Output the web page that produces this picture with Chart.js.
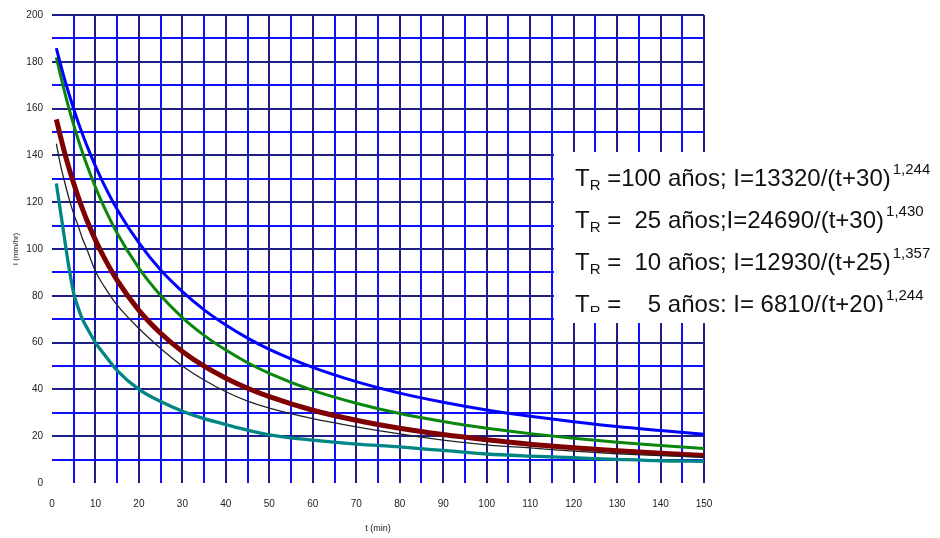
<!DOCTYPE html>
<html>
<head>
<meta charset="utf-8">
<style>
  html, body { margin: 0; padding: 0; background: #ffffff; }
  #wrap { width: 940px; height: 538px; }
</style>
<script src="https://cdn.jsdelivr.net/npm/chart.js@4.4.1/dist/chart.umd.min.js"></script>
</head>
<body>
<div id="wrap"><canvas id="c" width="940" height="538"></canvas></div>
<script>
// ---- data ----
const T = [1, 2, 3, 4, 5, 6, 7, 8, 10, 12, 15, 20, 25, 30, 35, 40, 45, 50, 60, 70, 80, 90, 100, 110, 120, 130, 140, 150];
const I_TR100 = [185.8, 178.7, 171.9, 165.7, 159.8, 154.3, 149.2, 144.3, 135.4, 127.4, 116.9, 102.6, 91.0, 81.8, 74.0, 67.5, 61.9, 57.1, 49.4, 43.3, 38.4, 34.5, 31.2, 28.5, 26.2, 24.1, 22.4, 20.8];
const I_TR25  = [181.9, 173.9, 166.4, 159.4, 153.0, 146.9, 141.3, 136.0, 126.4, 117.9, 106.7, 91.8, 80.1, 70.7, 63.1, 56.8, 51.4, 46.9, 39.6, 34.1, 29.7, 26.3, 23.4, 21.1, 19.1, 17.4, 16.0, 14.7];
const I_TR10  = [155.4, 147.7, 140.5, 134.0, 128.0, 122.4, 117.2, 112.4, 103.8, 96.3, 86.6, 73.8, 64.0, 56.2, 49.9, 44.8, 40.5, 36.9, 31.1, 26.8, 23.4, 20.7, 18.5, 16.6, 15.1, 13.8, 12.7, 11.7];
const I_THIN  = [145, 135.5, 128, 121, 115, 110, 104.5, 100, 90.5, 84, 76, 66, 57.5, 50, 44, 39, 35, 32, 27.5, 24, 21, 18.3, 16.3, 15, 13.6, 12.5, 11.7, 11];
const I_TR5   = [128, 115.5, 103, 91, 81, 75, 70, 66.5, 60, 55, 48, 40, 34.8, 30.7, 27.5, 25, 22.6, 20.6, 18.3, 16.6, 15.4, 13.9, 12.4, 11.5, 10.8, 10.1, 9.5, 9.3];

const X_MIN = 0, X_MAX = 150, X_STEP = 5, X_LABEL_EVERY = 10;
const Y_MIN = 0, Y_MAX = 200, Y_STEP = 10, Y_LABEL_EVERY = 20;

const X_TITLE = 't (min)';
const Y_TITLE = 'I (mm/hr)';

const LEG_HEAD = ['T', 'T', 'T', 'T'];
const LEG_SUB  = ['R', 'R', 'R', 'R'];
const LEG_BODY = [' =100 años; I=13320/(t+30)', ' =  25 años;I=24690/(t+30)', ' =  10 años; I=12930/(t+25)', ' =    5 años; I= 6810/(t+20)'];
const LEG_EXP  = ['1,244', '1,430', '1,357', '1,244'];

// ---- helpers ----
function pts(ys) { return T.map((t, i) => ({ x: t, y: ys[i] })); }

const MAJOR = '#1e1e86';
const MINOR = '#1010ff';
const FONT = '"Liberation Sans", Arial, Helvetica, sans-serif';

const legendBox = {
  id: 'legendBox',
  afterDraw(chart) {
    const ctx = chart.ctx;
    ctx.save();
    ctx.fillStyle = '#ffffff';
    ctx.fillRect(554, 152, 386, 171);
    ctx.beginPath();
    ctx.rect(554, 152, 386, 160);
    ctx.clip();
    ctx.fillStyle = '#111111';
    ctx.textBaseline = 'alphabetic';
    ctx.textAlign = 'left';
    const baselines = [186, 228, 270, 311.5];
    for (let i = 0; i < LEG_BODY.length; i++) {
      let x = 575;
      const b = baselines[i];
      ctx.font = '24px ' + FONT;
      ctx.fillText(LEG_HEAD[i], x, b);
      x += ctx.measureText(LEG_HEAD[i]).width;
      ctx.font = '15px ' + FONT;
      ctx.fillText(LEG_SUB[i], x, b + 4);
      x += ctx.measureText(LEG_SUB[i]).width;
      ctx.font = '24px ' + FONT;
      ctx.fillText(LEG_BODY[i], x, b);
      x += ctx.measureText(LEG_BODY[i]).width;
      ctx.font = '15px ' + FONT;
      ctx.fillText(LEG_EXP[i], x + 2, b - 12);
    }
    ctx.restore();
  }
};

function gridColor(ctx, every) {
  const v = ctx.tick ? ctx.tick.value : null;
  if (v === null || v === 0) return 'rgba(0,0,0,0)';
  return (Math.round(v) % every === 0) ? MAJOR : MINOR;
}

new Chart(document.getElementById('c'), {
  type: 'line',
  data: {
    datasets: [
      { label: 'thin', data: pts(I_THIN), borderColor: '#222222', borderWidth: 1.3 },
      { label: 'TR100', data: pts(I_TR100), borderColor: '#0000ff', borderWidth: 3 },
      { label: 'TR25', data: pts(I_TR25), borderColor: '#0a860a', borderWidth: 3 },
      { label: 'TR10', data: pts(I_TR10), borderColor: '#7e0000', borderWidth: 5 },
      { label: 'TR5', data: pts(I_TR5), borderColor: '#008484', borderWidth: 3.3 }
    ]
  },
  options: {
    responsive: false,
    animation: false,
    devicePixelRatio: 1,
    layout: { padding: { left: 0, right: 236, top: 14, bottom: 0 } },
    elements: {
      point: { radius: 0, hoverRadius: 0 },
      line: { fill: false, cubicInterpolationMode: 'monotone' }
    },
    plugins: { legend: { display: false }, tooltip: { enabled: false } },
    scales: {
      x: {
        type: 'linear', min: X_MIN, max: X_MAX,
        afterFit(s) { s.height = 55; },
        border: { display: false },
        grid: { drawTicks: false, lineWidth: 2, color: (c) => gridColor(c, X_LABEL_EVERY) },
        ticks: {
          stepSize: X_STEP, autoSkip: false, maxRotation: 0, padding: 15,
          color: '#222', font: { family: FONT, size: 10 },
          callback: (v) => (v % X_LABEL_EVERY === 0 ? String(v) : '')
        },
        title: { display: true, text: X_TITLE, color: '#222', font: { family: FONT, size: 9 }, padding: { top: 0, bottom: 4 } }
      },
      y: {
        type: 'linear', min: Y_MIN, max: Y_MAX,
        afterFit(s) { s.width = 52; },
        border: { display: false },
        grid: { drawTicks: false, lineWidth: 2, color: (c) => gridColor(c, Y_LABEL_EVERY) },
        ticks: {
          stepSize: Y_STEP, autoSkip: false, padding: 9,
          color: '#222', font: { family: FONT, size: 10 },
          callback: (v) => (v % Y_LABEL_EVERY === 0 ? String(v) : '')
        },
        title: { display: true, text: Y_TITLE, color: '#222', font: { family: FONT, size: 8 }, padding: { top: 11, bottom: 0 } }
      }
    }
  },
  plugins: [legendBox]
});
</script>
</body>
</html>
